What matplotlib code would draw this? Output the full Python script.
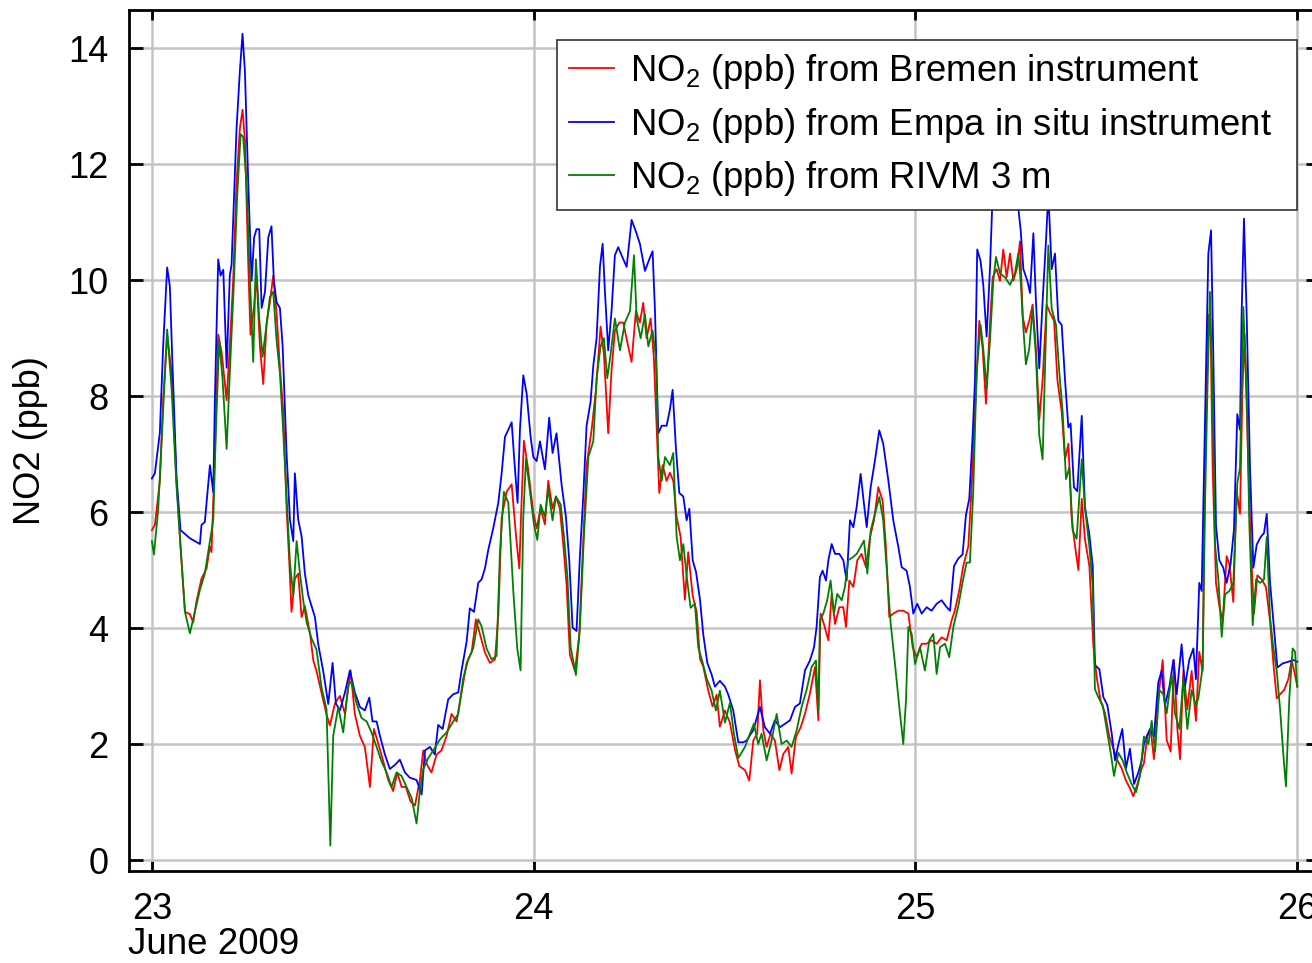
import numpy as np
import matplotlib

matplotlib.use("Agg")
import matplotlib.pyplot as plt

plt.rcParams["font.family"] = ["Liberation Sans", "DejaVu Sans"]
plt.rcParams["mathtext.fontset"] = "custom"
plt.rcParams["mathtext.rm"] = "Liberation Sans"
plt.rcParams["mathtext.it"] = "Liberation Sans:italic"

# NO2 time series, (hours after 23 June 2009 00:00, ppb)
bremen = [
    (0.0, 5.69), (0.19, 5.78), (0.50, 6.53), (0.71, 7.93), (0.96, 9.06), (1.24, 8.4), (1.55, 6.53),
    (1.80, 5.41), (2.08, 4.28), (2.39, 4.24), (2.60, 4.1), (2.81, 4.47), (3.12, 4.85), (3.44, 5.03),
    (3.65, 5.41), (3.75, 5.31), (3.96, 7.0), (4.17, 9.06), (4.38, 8.77), (4.70, 7.93), (4.90, 8.87),
    (5.11, 9.99), (5.32, 11.67), (5.53, 12.61), (5.70, 12.94), (5.85, 12.42), (6.06, 10.27),
    (6.20, 9.06), (6.41, 9.52), (6.58, 10.08), (6.79, 8.87), (7.00, 8.21), (7.21, 9.24), (7.42, 9.62),
    (7.63, 10.08), (7.84, 9.43), (8.05, 8.49), (8.26, 7.75), (8.47, 6.06), (8.64, 5.13), (8.78, 4.28),
    (8.99, 4.85), (9.20, 4.94), (9.41, 4.19), (9.62, 4.38), (9.94, 3.91), (10.15, 3.44), (10.35, 3.26),
    (10.67, 2.88), (10.98, 2.51), (11.19, 2.32), (11.51, 2.7), (11.82, 2.83), (12.14, 2.52),
    (12.49, 3.27), (12.76, 2.52), (13.08, 2.14), (13.39, 1.95), (13.71, 1.26), (13.96, 2.26),
    (14.23, 2.01), (14.55, 1.7), (14.86, 1.38), (15.17, 1.19), (15.43, 1.51), (15.70, 1.26),
    (15.97, 1.26), (16.26, 1.01), (16.54, 0.94), (16.85, 1.38), (17.06, 1.89), (17.31, 1.64),
    (17.58, 1.51), (17.90, 1.82), (18.21, 1.89), (18.53, 2.14), (18.84, 2.52), (19.16, 2.39),
    (19.47, 2.89), (19.79, 3.4), (20.10, 3.58), (20.37, 4.15), (20.62, 3.9), (20.94, 3.58),
    (21.25, 3.4), (21.57, 3.46), (21.78, 4.21), (21.99, 5.91), (22.30, 6.35), (22.62, 6.48),
    (22.89, 5.6), (23.10, 5.03), (23.24, 6.16), (23.39, 7.23), (23.66, 6.73), (23.98, 5.99),
    (24.19, 5.72), (24.44, 6.06), (24.71, 5.79), (24.92, 6.54), (25.19, 6.06), (25.40, 6.27),
    (25.65, 6.06), (25.86, 5.45), (26.07, 4.76), (26.28, 3.54), (26.60, 3.26), (26.87, 3.88),
    (27.08, 5.24), (27.33, 6.81), (27.65, 7.43), (27.92, 8.11), (28.21, 9.2), (28.42, 8.72),
    (28.69, 7.36), (28.90, 8.45), (29.11, 9.13), (29.39, 9.27), (29.64, 9.27), (29.89, 8.93),
    (30.16, 8.59), (30.43, 9.47), (30.68, 9.27), (30.89, 9.61), (31.10, 9.0), (31.36, 9.34),
    (31.56, 8.66), (31.73, 7.49), (31.90, 6.33), (32.11, 6.81), (32.36, 6.54), (32.57, 6.68),
    (32.78, 6.54), (32.99, 5.92), (33.24, 5.58), (33.51, 4.49), (33.72, 5.31), (34.00, 4.56),
    (34.25, 4.28), (34.46, 3.47), (34.67, 3.33), (34.98, 2.92), (35.25, 2.65), (35.51, 2.85),
    (35.71, 2.3), (36.03, 2.58), (36.34, 2.37), (36.66, 1.9), (36.93, 1.62), (37.29, 1.55),
    (37.56, 1.37), (37.81, 2.06), (38.06, 2.18), (38.23, 3.1), (38.44, 2.24), (38.65, 1.95),
    (38.90, 2.18), (39.17, 2.06), (39.45, 1.55), (39.70, 1.83), (40.01, 1.95), (40.22, 1.49),
    (40.49, 2.12), (40.79, 2.29), (41.06, 2.52), (41.37, 2.87), (41.69, 3.33), (41.90, 2.41),
    (42.04, 4.25), (42.25, 4.07), (42.53, 3.79), (42.74, 4.59), (42.95, 4.07), (43.22, 4.36),
    (43.47, 4.36), (43.64, 4.02), (43.85, 4.82), (44.10, 4.71), (44.35, 5.17), (44.62, 5.28),
    (44.90, 5.05), (45.15, 5.57), (45.40, 5.86), (45.67, 6.43), (45.94, 6.2), (46.15, 5.4),
    (46.36, 4.19), (46.61, 4.25), (46.93, 4.3), (47.24, 4.3), (47.56, 4.25), (47.83, 3.67),
    (48.08, 3.5), (48.40, 3.73), (48.71, 3.73), (49.02, 3.79), (49.34, 3.73), (49.65, 3.84),
    (49.97, 3.79), (50.28, 4.13), (50.49, 4.31), (50.76, 4.65), (51.01, 5.07), (51.33, 5.41),
    (51.54, 6.43), (51.75, 7.73), (52.02, 9.3), (52.23, 8.82), (52.44, 7.87), (52.65, 9.03),
    (52.86, 10.05), (53.11, 10.19), (53.32, 9.99), (53.53, 10.53), (53.74, 10.05), (53.95, 10.46),
    (54.16, 9.99), (54.37, 10.19), (54.58, 10.67), (54.75, 9.37), (54.95, 9.1), (55.16, 9.3),
    (55.37, 9.58), (55.58, 8.82), (55.79, 7.59), (56.00, 8.28), (56.25, 9.58), (56.46, 9.44),
    (56.72, 9.3), (56.93, 8.28), (57.20, 7.73), (57.41, 6.91), (57.62, 7.18), (57.83, 5.88),
    (58.04, 5.41), (58.25, 5.0), (58.46, 6.23), (58.66, 5.54), (58.94, 5.07), (59.19, 3.7),
    (59.40, 3.15), (59.65, 2.74), (59.92, 2.54), (60.19, 2.13), (60.45, 1.92), (60.70, 1.72),
    (60.97, 1.58), (61.24, 1.37), (61.49, 1.24), (61.70, 1.1), (61.96, 1.31), (62.23, 1.58),
    (62.37, 1.67), (62.58, 2.13), (62.79, 2.26), (63.00, 1.74), (63.27, 2.79), (63.55, 3.45),
    (63.80, 2.07), (64.05, 1.87), (64.26, 3.45), (64.47, 2.26), (64.64, 1.74), (64.85, 3.26),
    (65.10, 2.6), (65.37, 3.26), (65.64, 2.4), (65.85, 3.59), (66.06, 3.26), (66.21, 6.89),
    (66.42, 9.4), (66.57, 9.0), (66.69, 6.76), (66.90, 4.78), (67.11, 4.38), (67.32, 4.12),
    (67.57, 5.24), (67.74, 5.11), (67.99, 4.45), (68.20, 6.36), (68.41, 5.97), (68.56, 8.08),
    (68.70, 9.07), (68.87, 7.42), (69.08, 5.44), (69.29, 4.25), (69.50, 4.91), (69.77, 4.84),
    (70.04, 4.71), (70.30, 4.12), (70.51, 3.39), (70.72, 2.79), (70.93, 2.86), (71.18, 2.93),
    (71.45, 3.12), (71.66, 3.45), (71.87, 3.19), (72.01, 2.99),
]

empa = [
    (0.0, 6.58), (0.19, 6.67), (0.50, 7.37), (0.71, 8.87), (0.96, 10.22), (1.13, 9.9), (1.30, 8.5),
    (1.55, 6.6), (1.80, 5.69), (2.39, 5.55), (3.02, 5.45), (3.12, 5.78), (3.33, 5.83), (3.65, 6.81),
    (3.86, 6.34), (3.96, 7.93), (4.17, 10.36), (4.32, 10.08), (4.49, 10.18), (4.70, 8.49),
    (4.90, 10.08), (5.01, 10.27), (5.32, 12.6), (5.53, 13.6), (5.70, 14.25), (5.85, 13.6),
    (6.06, 11.67), (6.27, 9.99), (6.43, 10.74), (6.58, 10.88), (6.75, 10.88), (6.90, 9.52),
    (7.11, 9.80), (7.32, 10.74), (7.52, 10.93), (7.67, 9.99), (7.84, 9.62), (8.05, 9.52),
    (8.22, 8.87), (8.47, 7.0), (8.68, 5.87), (8.89, 5.5), (8.99, 6.67), (9.20, 5.87), (9.41, 5.59),
    (9.62, 4.94), (9.83, 4.57), (10.04, 4.38), (10.25, 4.19), (10.46, 3.72), (10.77, 3.26),
    (11.09, 2.69), (11.36, 3.4), (11.57, 2.7), (11.82, 2.58), (12.14, 2.89), (12.45, 3.27),
    (12.76, 2.89), (13.08, 2.64), (13.39, 2.58), (13.67, 2.8), (13.87, 2.39), (14.13, 2.39),
    (14.34, 2.14), (14.65, 1.82), (14.96, 1.57), (15.28, 1.64), (15.59, 1.73), (15.91, 1.51),
    (16.22, 1.42), (16.64, 1.38), (16.96, 1.13), (17.17, 1.89), (17.48, 1.95), (17.79, 1.82),
    (18.00, 2.33), (18.28, 2.26), (18.63, 2.77), (18.95, 2.86), (19.26, 2.89), (19.47, 3.27),
    (19.79, 3.77), (19.99, 4.34), (20.25, 4.28), (20.52, 4.78), (20.73, 4.84), (20.94, 5.03),
    (21.15, 5.35), (21.46, 5.72), (21.78, 6.16), (21.99, 6.67), (22.20, 7.3), (22.41, 7.42),
    (22.62, 7.55), (22.78, 6.92), (22.99, 6.16), (23.14, 7.42), (23.35, 8.36), (23.56, 8.05),
    (23.81, 7.3), (23.98, 6.95), (24.19, 6.88), (24.40, 7.22), (24.71, 6.74), (24.98, 7.63),
    (25.19, 7.02), (25.44, 7.36), (25.76, 6.47), (26.03, 5.92), (26.24, 5.17), (26.45, 4.01),
    (26.70, 3.95), (26.91, 5.24), (27.12, 6.27), (27.33, 7.49), (27.58, 7.9), (27.75, 8.52),
    (27.96, 9.0), (28.17, 10.23), (28.34, 10.63), (28.48, 9.82), (28.69, 8.79), (28.90, 9.47),
    (29.11, 10.43), (29.32, 10.57), (29.53, 10.43), (29.85, 10.23), (30.16, 11.04), (30.43, 10.84),
    (30.68, 10.63), (31.00, 10.16), (31.27, 10.36), (31.48, 10.5), (31.63, 9.47), (31.84, 7.36),
    (32.05, 7.49), (32.36, 7.49), (32.57, 7.77), (32.74, 8.11), (32.95, 7.09), (33.16, 6.33),
    (33.41, 6.27), (33.62, 5.86), (33.79, 6.06), (34.00, 5.17), (34.21, 4.97), (34.46, 4.49),
    (34.67, 3.88), (34.92, 3.4), (35.19, 3.2), (35.40, 2.99), (35.71, 3.09), (36.03, 2.99),
    (36.24, 2.85), (36.55, 2.58), (36.87, 2.03), (37.18, 2.03), (37.39, 2.06), (37.81, 2.24),
    (38.23, 2.64), (38.54, 2.29), (38.86, 2.18), (39.17, 2.41), (39.49, 2.29), (39.80, 2.35),
    (40.12, 2.41), (40.43, 2.64), (40.74, 2.70), (41.06, 3.27), (41.37, 3.44), (41.63, 3.67),
    (41.79, 4.02), (42.00, 4.88), (42.17, 4.99), (42.38, 4.82), (42.53, 5.17), (42.74, 5.45),
    (42.95, 5.28), (43.22, 5.28), (43.47, 5.17), (43.68, 4.82), (43.89, 5.86), (44.10, 5.74),
    (44.31, 6.09), (44.56, 6.66), (44.77, 6.14), (44.94, 5.74), (45.19, 6.43), (45.46, 6.89),
    (45.73, 7.41), (45.98, 7.18), (46.30, 6.55), (46.61, 5.86), (46.93, 5.4), (47.14, 5.05),
    (47.45, 4.99), (47.66, 4.71), (47.87, 4.25), (48.12, 4.42), (48.40, 4.25), (48.71, 4.36),
    (49.02, 4.3), (49.34, 4.42), (49.65, 4.48), (49.97, 4.36), (50.18, 4.3), (50.43, 5.07),
    (50.70, 5.2), (50.97, 5.27), (51.18, 5.95), (51.39, 6.23), (51.60, 7.32), (51.75, 8.28),
    (51.89, 10.53), (52.10, 10.33), (52.27, 9.92), (52.48, 9.03), (52.69, 10.19), (52.86, 11.5),
    (53.11, 11.3), (53.53, 11.4), (53.95, 11.3), (54.37, 11.5), (54.62, 10.87), (54.79, 10.19),
    (55.04, 9.99), (55.21, 9.78), (55.42, 10.81), (55.58, 9.64), (55.79, 8.48), (56.00, 9.64),
    (56.21, 10.67), (56.36, 11.5), (56.57, 10.19), (56.78, 10.46), (56.99, 9.3), (57.20, 9.23),
    (57.41, 8.28), (57.62, 7.46), (57.76, 7.53), (57.97, 6.43), (58.18, 6.36), (58.46, 7.66),
    (58.66, 6.09), (58.94, 5.61), (59.15, 5.07), (59.29, 3.36), (59.57, 3.29), (59.82, 2.81),
    (60.07, 2.67), (60.34, 2.19), (60.55, 1.72), (60.76, 1.99), (61.01, 2.26), (61.24, 1.58),
    (61.49, 1.92), (61.75, 1.31), (62.02, 1.51), (62.23, 1.72), (62.37, 2.0), (62.54, 2.13),
    (62.75, 2.26), (63.00, 2.13), (63.27, 3.06), (63.48, 3.26), (63.69, 2.66), (63.97, 2.99),
    (64.22, 3.45), (64.43, 2.86), (64.74, 3.72), (64.95, 2.99), (65.22, 3.45), (65.48, 3.65),
    (65.64, 3.12), (65.85, 4.78), (66.00, 4.64), (66.15, 6.76), (66.27, 8.41), (66.42, 10.46),
    (66.59, 10.86), (66.73, 8.74), (66.90, 5.77), (67.11, 5.17), (67.36, 5.04), (67.57, 4.78),
    (67.82, 5.11), (68.03, 5.7), (68.24, 7.69), (68.41, 7.42), (68.51, 9.4), (68.66, 11.06),
    (68.83, 9.4), (69.04, 6.76), (69.25, 5.04), (69.46, 5.44), (69.71, 5.57), (69.92, 5.64),
    (70.09, 5.97), (70.30, 4.78), (70.51, 4.12), (70.76, 3.32), (71.09, 3.39), (71.45, 3.42),
    (71.76, 3.45), (72.01, 3.42),
]

rivm = [
    (0.0, 5.5), (0.13, 5.27), (0.40, 6.06), (0.71, 7.75), (0.96, 9.15), (1.24, 8.12), (1.55, 6.44),
    (1.87, 5.13), (2.08, 4.28), (2.39, 3.91), (2.70, 4.28), (3.02, 4.66), (3.33, 4.94), (3.65, 5.5),
    (3.86, 5.87), (4.02, 7.37), (4.23, 8.96), (4.44, 8.31), (4.70, 7.09), (4.90, 8.4), (5.16, 9.99),
    (5.37, 11.49), (5.58, 12.52), (5.74, 12.47), (5.95, 11.67), (6.16, 10.08), (6.37, 8.59),
    (6.54, 10.36), (6.75, 9.34), (6.96, 8.68), (7.21, 9.24), (7.42, 9.71), (7.63, 9.8), (7.84, 8.96),
    (8.05, 8.4), (8.26, 7.37), (8.47, 6.25), (8.68, 5.13), (8.89, 4.57), (9.10, 5.5), (9.31, 4.94),
    (9.52, 4.47), (9.73, 4.1), (10.04, 3.82), (10.35, 3.63), (10.67, 2.97), (10.98, 2.6),
    (11.22, 0.25), (11.40, 2.14), (11.72, 2.64), (12.03, 2.2), (12.34, 3.02), (12.55, 3.08),
    (12.87, 2.7), (13.18, 2.45), (13.50, 2.39), (13.81, 2.2), (14.13, 1.95), (14.44, 1.7),
    (14.76, 1.51), (15.07, 1.26), (15.38, 1.51), (15.70, 1.45), (16.01, 1.26), (16.33, 1.07),
    (16.64, 0.63), (16.85, 1.19), (17.06, 1.57), (17.38, 1.76), (17.69, 1.89), (18.11, 2.08),
    (18.53, 2.2), (18.95, 2.39), (19.26, 2.52), (19.58, 3.14), (19.89, 3.46), (20.20, 3.65),
    (20.52, 4.15), (20.73, 4.03), (21.04, 3.65), (21.36, 3.46), (21.67, 3.52), (21.88, 5.28),
    (22.13, 6.35), (22.41, 6.16), (22.72, 4.65), (22.97, 3.65), (23.18, 3.27), (23.35, 5.91),
    (23.52, 6.92), (23.77, 6.35), (24.02, 5.79), (24.23, 5.52), (24.44, 6.13), (24.71, 5.92),
    (24.92, 6.4), (25.19, 5.86), (25.40, 6.27), (25.70, 6.13), (25.91, 5.58), (26.12, 4.9),
    (26.33, 3.67), (26.66, 3.19), (26.91, 4.01), (27.16, 5.58), (27.44, 6.95), (27.75, 7.22),
    (27.96, 8.31), (28.21, 8.86), (28.42, 9.0), (28.63, 8.31), (28.84, 8.72), (29.11, 9.34),
    (29.43, 8.79), (29.74, 9.27), (30.06, 9.47), (30.31, 10.43), (30.48, 9.34), (30.73, 9.0),
    (31.00, 9.41), (31.21, 8.86), (31.48, 9.13), (31.69, 8.66), (31.84, 6.95), (32.05, 6.54),
    (32.26, 6.95), (32.57, 6.81), (32.78, 7.02), (32.99, 5.58), (33.20, 5.17), (33.41, 5.45),
    (33.62, 4.9), (33.87, 4.35), (34.14, 4.42), (34.35, 3.67), (34.63, 3.4), (34.88, 3.13),
    (35.19, 2.92), (35.46, 2.58), (35.71, 2.92), (36.03, 2.37), (36.34, 2.71), (36.60, 2.17),
    (36.87, 1.76), (37.29, 1.95), (37.60, 2.18), (37.85, 2.35), (38.12, 2.0), (38.33, 2.18),
    (38.65, 1.72), (38.96, 2.06), (39.28, 2.52), (39.59, 2.0), (39.91, 2.06), (40.22, 1.95),
    (40.54, 2.24), (40.85, 2.64), (41.16, 2.93), (41.48, 3.33), (41.75, 3.44), (41.90, 2.58),
    (42.00, 4.13), (42.21, 4.25), (42.46, 4.48), (42.67, 4.82), (42.88, 4.25), (43.09, 4.59),
    (43.37, 4.48), (43.57, 4.71), (43.78, 5.17), (44.06, 5.22), (44.31, 5.28), (44.56, 5.4),
    (44.77, 5.51), (44.98, 4.94), (45.19, 5.68), (45.46, 5.97), (45.73, 6.26), (45.98, 5.86),
    (46.19, 5.05), (46.45, 4.07), (46.72, 3.38), (46.99, 2.64), (47.24, 2.0), (47.41, 2.75),
    (47.56, 4.02), (47.77, 3.9), (47.98, 3.38), (48.29, 3.67), (48.60, 3.27), (48.88, 3.79),
    (49.13, 3.9), (49.34, 3.21), (49.55, 3.67), (49.86, 3.73), (50.13, 3.5), (50.39, 4.02),
    (50.70, 4.38), (50.97, 4.79), (51.22, 5.13), (51.43, 5.13), (51.64, 6.36), (51.85, 8.41),
    (52.10, 9.23), (52.27, 8.82), (52.48, 8.14), (52.69, 8.96), (52.90, 9.99), (53.07, 10.4),
    (53.32, 10.12), (53.63, 10.05), (53.95, 9.92), (54.26, 10.12), (54.47, 10.46), (54.62, 9.99),
    (54.79, 9.17), (54.95, 8.55), (55.16, 8.82), (55.37, 9.51), (55.58, 8.69), (55.79, 7.32),
    (56.00, 6.91), (56.15, 8.48), (56.36, 10.6), (56.57, 9.51), (56.84, 9.23), (57.05, 8.41),
    (57.26, 7.73), (57.47, 6.57), (57.68, 6.77), (57.89, 5.68), (58.14, 5.54), (58.46, 6.91),
    (58.66, 6.09), (58.94, 5.41), (59.15, 4.72), (59.29, 2.95), (59.50, 2.81), (59.78, 2.67),
    (60.03, 2.26), (60.28, 1.85), (60.49, 1.45), (60.76, 1.85), (61.03, 1.72), (61.29, 1.51),
    (61.60, 1.31), (61.87, 1.17), (62.12, 1.45), (62.37, 2.13), (62.65, 2.0), (62.86, 2.4),
    (63.07, 1.87), (63.34, 2.93), (63.59, 2.86), (63.80, 2.53), (64.11, 3.19), (64.32, 2.53),
    (64.60, 2.26), (64.85, 3.12), (65.10, 2.26), (65.37, 2.93), (65.64, 2.66), (65.79, 2.79),
    (66.06, 3.32), (66.21, 6.1), (66.36, 8.08), (66.52, 9.8), (66.69, 8.08), (66.84, 5.44),
    (67.05, 4.84), (67.26, 3.85), (67.47, 4.58), (67.74, 4.64), (67.99, 4.78), (68.24, 6.5),
    (68.41, 6.76), (68.62, 9.54), (68.83, 8.08), (69.00, 5.77), (69.21, 4.05), (69.42, 4.84),
    (69.67, 4.78), (69.92, 4.84), (70.09, 5.57), (70.30, 4.18), (70.51, 3.65), (70.72, 3.26),
    (70.93, 2.6), (71.14, 1.8), (71.30, 1.27), (71.51, 2.79), (71.72, 3.65), (71.87, 3.59),
    (72.01, 2.99),
]

series = [
    (bremen, "#ff0000", r"NO$_2$ (ppb) from Bremen instrument"),
    (empa, "#0000ff", r"NO$_2$ (ppb) from Empa in situ instrument"),
    (rivm, "#008000", r"NO$_2$ (ppb) from RIVM 3 m"),
]
day_ticks = [23, 24, 25, 26]
ppb_ticks = [0, 2, 4, 6, 8, 10, 12, 14]

fig = plt.figure(figsize=(13.12, 9.63), dpi=100)
ax = fig.add_axes([0.0983, 0.0955, 0.9078, 0.8941])

for data, color, label in series:
    hours, ppb = np.array(data).T
    ax.plot(23 + hours / 24.0, ppb, color=color, linewidth=1.3, label=label, zorder=3)

ax.set_xlim(22.94, 26.06)
ax.set_ylim(-0.19, 14.66)
ax.set_xticks(day_ticks)
ax.set_xticklabels([str(d) for d in day_ticks])
ax.set_yticks(ppb_ticks)
ax.grid(True, color="#c4c4c4", linewidth=1.8, zorder=0)
ax.set_axisbelow(True)

for spine in ax.spines.values():
    spine.set_linewidth(2.0)
ax.tick_params(direction="in", top=True, right=True, labelsize=26, width=2.0)
ax.tick_params(axis="y", length=10, pad=15)
ax.tick_params(axis="x", length=7, pad=15)

ax.set_ylabel("NO2 (ppb)", fontsize=26)
ax.yaxis.label.set_va("center")
ax.yaxis.set_label_coords(-0.083, 0.5)
fig.text(128 / 1312, 1 - 944 / 963, "June 2009", fontsize=26.5, ha="left", va="center")

# legend box stretched to a fixed width, text left-aligned inside
leg = ax.legend(
    loc="upper left",
    bbox_to_anchor=(0.3594, 0.77, 0.6213, 0.1952),
    mode="expand",
    borderaxespad=0,
    fontsize=26.3,
    handlelength=1.23,
    handletextpad=0.44,
    labelspacing=0.4,
    borderpad=0.33,
    fancybox=False,
    framealpha=1,
)
leg.get_frame().set_edgecolor("#333333")
leg.get_frame().set_linewidth(1.2)
leg.set_zorder(5)

fig.savefig("out.png", dpi=100)
